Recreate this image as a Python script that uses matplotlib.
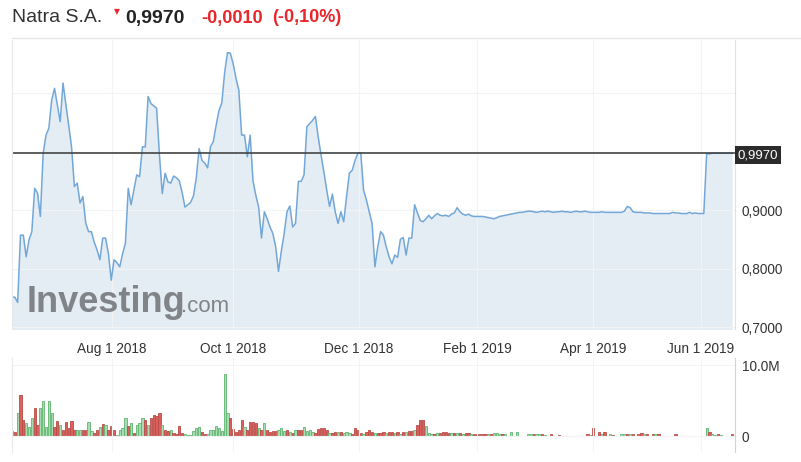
import matplotlib
matplotlib.use('Agg')
import matplotlib.pyplot as plt
import numpy as np
from matplotlib.ticker import FuncFormatter

plt.rcParams['font.family'] = ['Liberation Sans', 'DejaVu Sans']

# daily closing price (one value per trading day)
price = [
    0.751, 0.751, 0.742, 0.857, 0.857, 0.820, 0.849, 0.863, 0.937, 0.929,
    0.889, 0.997, 1.028, 1.040, 1.088, 1.108, 1.080, 1.051, 1.117, 1.080,
    1.045, 1.008, 0.940, 0.946, 0.912, 0.923, 0.878, 0.863, 0.863, 0.845,
    0.832, 0.815, 0.852, 0.852, 0.826, 0.780, 0.815, 0.810, 0.803, 0.825,
    0.843, 0.937, 0.909, 0.935, 0.960, 0.957, 1.008, 1.008, 1.094, 1.082,
    1.078, 1.074, 0.994, 0.928, 0.963, 0.948, 0.946, 0.958, 0.955, 0.950,
    0.930, 0.905, 0.909, 0.913, 0.924, 0.955, 1.005, 0.985, 0.980, 0.972,
    1.008, 1.017, 1.045, 1.070, 1.083, 1.135, 1.169, 1.168, 1.150, 1.125,
    1.105, 1.028, 1.028, 0.991, 1.028, 0.950, 0.925, 0.905, 0.852, 0.897,
    0.885, 0.871, 0.860, 0.837, 0.795, 0.830, 0.860, 0.897, 0.907, 0.871,
    0.877, 0.949, 0.949, 0.960, 1.042, 1.048, 1.053, 1.060, 1.025, 0.994,
    0.965, 0.934, 0.906, 0.927, 0.897, 0.877, 0.897, 0.880, 0.923, 0.963,
    0.968, 0.985, 0.997, 0.998, 0.934, 0.917, 0.897, 0.877, 0.803, 0.837,
    0.863, 0.857, 0.837, 0.820, 0.808, 0.823, 0.819, 0.850, 0.853, 0.823,
    0.852, 0.852, 0.909, 0.895, 0.882, 0.880, 0.885, 0.891, 0.885, 0.890,
    0.894, 0.891, 0.890, 0.891, 0.889, 0.893, 0.895, 0.904, 0.897, 0.893,
    0.891, 0.893, 0.890, 0.889, 0.889, 0.889, 0.889, 0.888, 0.887, 0.886,
    0.885, 0.887, 0.889, 0.890, 0.891, 0.892, 0.893, 0.894, 0.895, 0.896,
    0.896, 0.897, 0.898, 0.898, 0.897, 0.896, 0.897, 0.898, 0.897, 0.898,
    0.897, 0.896, 0.897, 0.897, 0.898, 0.897, 0.897, 0.896, 0.897, 0.898,
    0.897, 0.897, 0.898, 0.897, 0.896, 0.896, 0.896, 0.896, 0.897, 0.896,
    0.896, 0.896, 0.896, 0.896, 0.896, 0.896, 0.898, 0.906, 0.904, 0.897,
    0.896, 0.896, 0.896, 0.895, 0.895, 0.895, 0.894, 0.894, 0.894, 0.894,
    0.894, 0.894, 0.894, 0.896, 0.895, 0.895, 0.894, 0.894, 0.894, 0.896,
    0.894, 0.895, 0.894, 0.894, 0.894, 0.996, 0.996, 0.997, 0.997, 0.997,
    0.997, 0.997, 0.997, 0.997, 0.997,
]

# daily volume in millions
volume = [
    0.65, 0.55, 3.3, 5.8, 2.3, 1.85, 1.25, 2.6, 4.0, 1.6,
    4.0, 4.9, 1.25, 4.9, 3.3, 1.25, 2.1, 1.6, 0.9, 1.95,
    1.1, 2.1, 0.8, 0.9, 0.9, 0.8, 0.9, 1.95, 0.65, 0.46,
    0.8, 1.25, 1.75, 1.5, 0.9, 1.4, 0.9, 0.2, 0.8, 1.1,
    2.6, 1.4, 1.85, 0.46, 1.6, 1.85, 2.5, 2.3, 1.6, 2.5,
    2.9, 2.8, 3.3, 1.6, 0.9, 0.65, 0.9, 0.46, 0.3, 1.4,
    0.46, 0.28, 0.2, 0.1, 0.65, 1.15, 1.25, 0.55, 0.3, 0.3,
    0.9, 0.9, 1.4, 1.2, 0.65, 8.75, 3.2, 2.6, 1.0, 0.55,
    0.8, 2.25, 1.25, 0.8, 1.95, 2.0, 1.85, 1.1, 0.9, 1.85,
    0.8, 0.55, 0.65, 0.65, 0.8, 1.1, 0.7, 0.8, 0.55, 0.46,
    0.9, 0.9, 0.8, 1.25, 0.7, 0.8, 0.55, 0.4, 1.0, 1.1,
    1.1, 0.8, 0.46, 0.46, 0.55, 0.55, 0.55, 0.46, 0.55, 0.46,
    0.3, 1.1, 0.8, 0.46, 0.3, 0.55, 0.9, 0.55, 0.46, 0.4,
    0.46, 0.55, 0.46, 0.55, 0.55, 0.46, 0.55,
    0.30, 0.55, 0.55, 0.65, 0.65, 0.80, 1.50, 2.20, 2.20, 1.40,
    0.46, 0.30, 0.30, 0.40, 0.46, 0.55, 0.55, 0.46, 0.46, 0.42,
    0.42, 0.42, 0.32, 0.42, 0.42, 0.32, 0.32, 0.28, 0.28, 0.28,
    0.28, 0.28, 0.32, 0.37, 0.37, 0.32, 0.32, 0.28, 0.0, 0.55,
    0.0, 0.55, 0.0, 0.0, 0.0, 0.23, 0.28, 0.23, 0.28, 0.23,
    0.23, 0.19, 0.0, 0.23, 0.0, 0.0, 0.19, 0.0, 0.0, 0.0,
    0.0, 0.0, 0.0, 0.0, 0.0, 0.0, 0.28, 0.19, 1.10, 0.0,
    0.55, 0.23, 0.55, 0.0, 0.23, 0.19, 0.0, 0.0, 0.23, 0.23,
    0.23, 0.23, 0.28, 0.0, 0.28, 0.37, 0.23, 0.28, 0.0, 0.28,
    0.32, 0.32, 0.0, 0.0, 0.0, 0.0, 0.0, 0.23, 0.0, 0.0,
    0.0, 0.0, 0.0, 0.0, 0.0, 0.0, 0.0, 0.0, 1.10, 0.55,
    0.28, 0.19, 0.23, 0.19, 0.0, 0.0, 0.0, 0.23,
]

# bar colour per day: g = up, r = down, - = no trade (same rows as volume)
direction = (
    "grgrrgggrr" "gggggrrgrr" "rrrggrrggr" "rgrgrrrggg" "grgrgggrgr"
    "rrrgrrgrrr" "rggggggrrg" "gggggggrrr" "rrgrrrrgrg" "rrrrgggrgr"
    "grrggggrrr" "rrgrrgrggg" "rrrrgrrrgr" "rrgrrgr"
    "grgrrgrrrg" "ggrgrrrrgr" "grgrrgrrrr" "rgrgggrg-g"
    "-g---ggrgg" "rg-r--r---" "------rgr-" "rgr-gr--gg"
    "rgr-rrgr-r" "gr-----r--" "--------gr" "ggrg---r"
)

tick_pos = [35.3, 78.0, 122.4, 164.0, 205.0, 243.0]
tick_labels = ["Aug 1 2018", "Oct 1 2018", "Dec 1 2018", "Feb 1 2019", "Apr 1 2019", "Jun 1 2019"]
last_price = 0.9970

W, H = 801, 462
fig = plt.figure(figsize=(W / 100, H / 100), dpi=100)


def box(l, t, r, b):
    return [l / W, 1 - b / H, (r - l) / W, (b - t) / H]


x = np.arange(len(price))

# volume panel first so the price axis labels sit on top of it
vax = fig.add_axes(box(12, 358, 735, 452))
vax.patch.set_visible(False)
cols = {'g': '#a8dbb1', 'r': '#d9605c', '-': 'none'}
edges = {'g': '#5fb570', 'r': '#bb4a46', '-': 'none'}
vax.bar(x, volume, width=0.8, color=[cols[c] for c in direction],
        edgecolor=[edges[c] for c in direction], lw=0.6)
vax.set_xlim(0, 255)
vax.set_ylim(-2.25, 10.99)
vax.yaxis.tick_right()
vax.set_yticks([0, 10])
vax.set_yticklabels(['0', '10.0M'])
vax.set_xticks(tick_pos)
vax.set_xticklabels([])
vax.tick_params(length=0, labelsize=9.8, colors='#333333', pad=5)
vax.grid(True, color='#f3f4f6', lw=0.8)
for s in ['top', 'bottom']:
    vax.spines[s].set_visible(False)
vax.spines['left'].set_color('#e8e8e8')
vax.spines['right'].set_color('#c9d4e4')

ax = fig.add_axes(box(12, 40, 735, 329))
ax.fill_between(x, price, 0.69, color='#e4edf4', lw=0)
ax.plot(x, price, color='#72a7d8', lw=1.1)
ax.axhline(last_price, color='#444444', lw=1.2)
ax.set_xlim(0, 255)
ax.set_ylim(0.6966, 1.1906)
ax.yaxis.tick_right()
ax.set_yticks([0.7, 0.8, 0.9, 1.0, 1.1])
ax.yaxis.set_major_formatter(FuncFormatter(
    lambda v, p: f"{v:.4f}".replace('.', ',') if v < 0.95 else ""))
ax.set_xticks(tick_pos)
ax.set_xticklabels(tick_labels)
ax.tick_params(length=0, labelsize=9.8, colors='#333333')
ax.tick_params(axis='x', pad=9.5)
ax.tick_params(axis='y', pad=5)
ax.grid(True, color='#f1f3f5', lw=0.8)
for s in ['top', 'bottom']:
    ax.spines[s].set_visible(False)
ax.spines['left'].set_color('#e8e8e8')
ax.spines['right'].set_color('#dde2ea')

fig.text(738 / W, 1 - 155 / H, "0,9970", color='white', fontsize=9.5, va='center',
         bbox=dict(boxstyle='square,pad=0.22', fc='#2b2b2b', ec='none'))

# watermark
fig.text(27 / W, 1 - 302 / H, "Investing", fontsize=26, fontweight='bold',
         color='#75787c', va='center', alpha=0.9)
fig.text(181 / W, 1 - 306 / H, ".com", fontsize=16, color='#75787c', va='center', alpha=0.9)

# header
fig.add_artist(plt.Line2D([12 / W, 1], [1 - 38 / H, 1 - 38 / H], color='#e6e6e6', lw=1))
fig.text(12 / W, 1 - 18 / H, "Natra S.A.", fontsize=14, color='#333333', va='center')
fig.text(114 / W, 1 - 12 / H, "▼", fontsize=5.5, color='#e8262b', va='center',
         family=['DejaVu Sans'])
fig.text(125 / W, 1 - 18 / H, "0,9970", fontsize=14, fontweight='bold', color='#222222', va='center')
fig.text(201 / W, 1 - 18 / H, "-0,0010", fontsize=13, fontweight='bold', color='#e8262b', va='center')
fig.text(272 / W, 1 - 18 / H, "(-0,10%)", fontsize=13, fontweight='bold', color='#e8262b', va='center')

fig.savefig('out.png', dpi=100)
